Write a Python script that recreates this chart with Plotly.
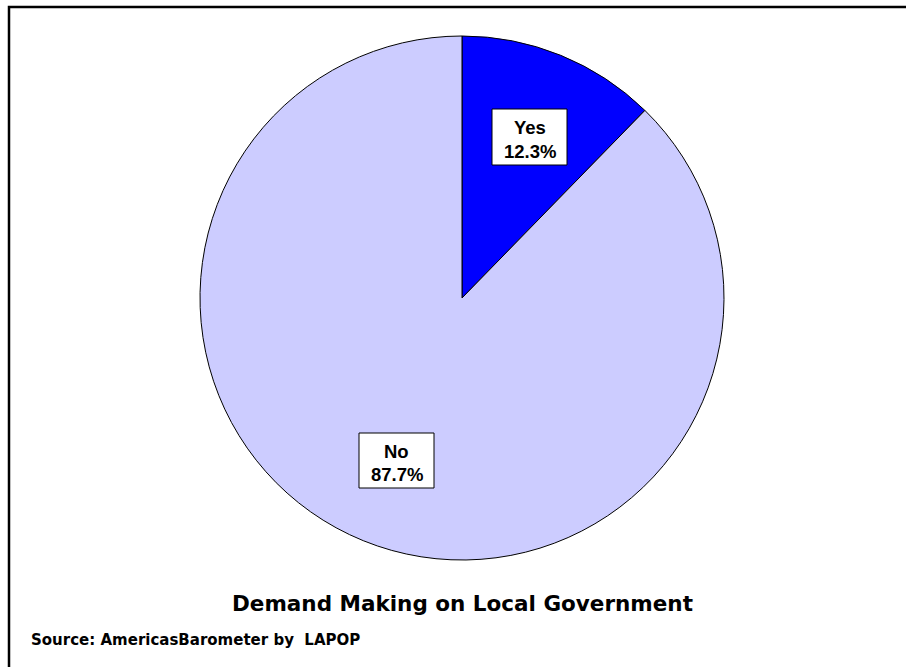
import plotly.graph_objects as go

labels = ["Yes", "No"]
values = [12.3, 87.7]
colors = ["#0000FF", "#CCCCFF"]
title_text = "Demand Making on Local Government"
source_text = "Source: AmericasBarometer by  LAPOP"

W, H = 906, 667

fig = go.Figure(go.Pie(
    labels=labels, values=values, sort=False, direction="clockwise", rotation=0,
    marker=dict(colors=colors, line=dict(color="black", width=1)),
    textinfo="none", hoverinfo="label+percent", showlegend=False,
    domain=dict(x=[200 / W, 724 / W], y=[1 - 560 / H, 1 - 36 / H]),
))

# label boxes: (x0, x1, y0, y1) in pixels from top-left
label_box = {"Yes": (492, 567, 109, 165), "No": (359, 434, 433, 488)}
for lab, val in zip(labels, values):
    x0, x1, y0, y1 = label_box[lab]
    fig.add_shape(type="rect", xref="paper", yref="paper",
                  x0=x0 / W, x1=x1 / W, y0=1 - y1 / H, y1=1 - y0 / H,
                  line=dict(color="black", width=1), fillcolor="white")
    cx = (x0 + x1) / 2
    split = (y0 + y1) / 2 + 2
    fig.add_annotation(
        x=cx / W, y=1 - split / H, xref="paper", yref="paper",
        text=f"<b>{lab}</b>", showarrow=False,
        font=dict(family="Liberation Sans", size=18.5, color="black"),
        xanchor="center", yanchor="bottom", borderpad=0,
    )
    fig.add_annotation(
        x=cx / W, y=1 - (split + 0.5) / H, xref="paper", yref="paper",
        text=f"<b>{val:.1f}%</b>", showarrow=False,
        font=dict(family="Liberation Sans", size=18.5, color="black"),
        xanchor="center", yanchor="top", borderpad=0,
    )

fig.add_annotation(x=462 / W, y=1 - 603 / H, xref="paper", yref="paper",
                   text=f"<b>{title_text}</b>", showarrow=False,
                   font=dict(family="DejaVu Sans", size=21.5, color="black"),
                   xanchor="center", yanchor="middle")
fig.add_annotation(x=29 / W, y=1 - 640 / H, xref="paper", yref="paper",
                   text=f"<b>{source_text}</b>", showarrow=False,
                   font=dict(family="DejaVu Sans", size=15, color="black"),
                   xanchor="left", yanchor="middle")

fig.add_shape(type="rect", xref="paper", yref="paper",
              x0=9 / W, x1=1.02, y0=-0.02, y1=1 - 7 / H,
              line=dict(color="black", width=2.5), fillcolor="rgba(0,0,0,0)")

fig.update_layout(width=W, height=H, margin=dict(l=0, r=0, t=0, b=0),
                  paper_bgcolor="white", plot_bgcolor="white")

fig.write_html("out.html", config={"displayModeBar": False},
               post_script="document.body.style.margin='0';")
